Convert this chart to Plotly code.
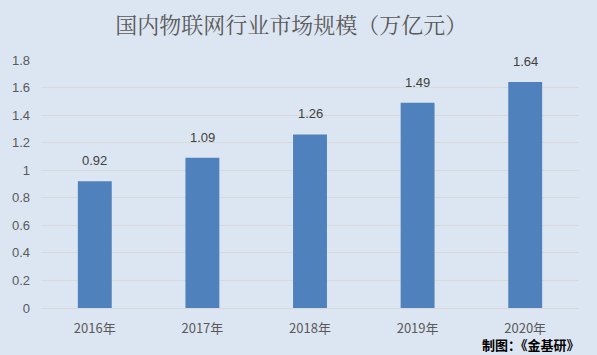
import plotly.graph_objects as go

categories = ["2016年", "2017年", "2018年", "2019年", "2020年"]
values = [0.92, 1.09, 1.26, 1.49, 1.64]
value_labels = ["0.92", "1.09", "1.26", "1.49", "1.64"]
title_text = "国内物联网行业市场规模（万亿元）"
source_text = "制图：《金基研》"

bg = "#DCE6F2"
fig = go.Figure()
fig.add_trace(go.Bar(
    x=categories, y=values, width=0.315,
    marker=dict(color="#4F81BD", line=dict(width=0)),
))
for c, v, t in zip(categories, values, value_labels):
    fig.add_annotation(x=c, y=v, text=t, showarrow=False, yanchor="bottom", yshift=11,
                       font=dict(family="Liberation Sans, Arial", size=13, color="#404040"))
fig.update_layout(
    width=597, height=355,
    paper_bgcolor=bg, plot_bgcolor=bg,
    margin=dict(l=39, r=18, t=60, b=47),
    title=dict(text=title_text, x=0.488, xanchor="center", y=0.93, yanchor="middle",
               font=dict(family="Noto Serif CJK SC, Noto Sans CJK SC", size=22, color="#595959")),
    showlegend=False,
)
fig.update_xaxes(showline=True, linecolor="#D9D9D9", linewidth=1, ticks="",
                 ticklabelstandoff=8,
                 tickfont=dict(family="Noto Sans CJK SC", size=13, color="#595959"))
fig.update_yaxes(range=[0, 1.8], dtick=0.2, gridcolor="#D9D9D9", gridwidth=1,
                 zeroline=False, tickformat="~g", ticklabelstandoff=10,
                 tickfont=dict(family="Liberation Sans, Arial", size=13, color="#595959"))
fig.add_annotation(text="<b>" + source_text + "</b>", xref="paper", yref="paper", x=1.006, y=-0.148,
                   xanchor="right", yanchor="middle", showarrow=False,
                   font=dict(family="Noto Sans CJK SC", size=13, color="#000000"))
fig.write_html("out.html")
